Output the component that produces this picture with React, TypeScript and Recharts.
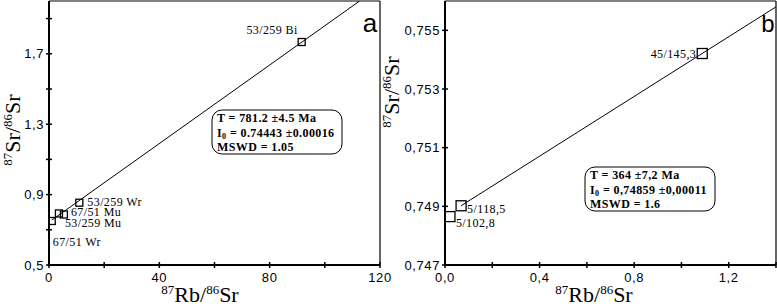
import React from 'react'
import { ScatterChart, Scatter, XAxis, YAxis, ReferenceLine } from 'recharts'

// panel a
const samplesA = ['53/259 Bi', '53/259 Wr', '67/51 Mu', '53/259 Mu', '67/51 Wr']
const rbSrA = [91.6, 11.0, 3.6, 5.4, 1.0]
const srSrA = [1.767, 0.854, 0.793, 0.787, 0.75]
const fitRbA = [1.0, 112.6]
const fitSrA = [0.755, 2.0]
const xTicksA = [0, 20, 40, 60, 80, 100, 120]
const xLabelsA = [0, 40, 80, 120]
const yTicksA = [0.5, 0.7, 0.9, 1.1, 1.3, 1.5, 1.7, 1.9]
const yLabelsA = [0.5, 0.9, 1.3, 1.7]

// panel b
const samplesB = ['45/145,3', '5/118,5', '5/102,8']
const rbSrB = [1.088, 0.068, 0.021]
const srSrB = [0.75421, 0.74902, 0.74865]
const fitRbB = [0.068, 1.4]
const fitSrB = [0.74902, 0.7558]
const xTicksB = [0, 0.2, 0.4, 0.6, 0.8, 1.0, 1.2, 1.4]
const xLabelsB = [0, 0.4, 0.8, 1.2]
const yTicksB = [0.747, 0.749, 0.751, 0.753, 0.755]

// isochron results
const resultA = ['T = 781.2 \u00b14.5  Ma', '0.74443 \u00b10.00016', 'MSWD = 1.05']
const resultB = ['T = 364 \u00b17,2  Ma', '0,74859  \u00b10,00011', 'MSWD = 1.6']

// where each sample label sits relative to its square
const labelPos: Record<string, { dx: number; dy: number; anchor: 'start' | 'end' }> = {
  '53/259 Bi': { dx: -4, dy: -12, anchor: 'end' },
  '53/259 Wr': { dx: 8, dy: -1, anchor: 'start' },
  '67/51 Mu': { dx: 12, dy: -1, anchor: 'start' },
  '53/259 Mu': { dx: 1, dy: 9, anchor: 'start' },
  '67/51 Wr': { dx: 1, dy: 21, anchor: 'start' },
  '45/145,3': { dx: -6, dy: 0, anchor: 'end' },
  '5/118,5': { dx: 6, dy: 3, anchor: 'start' },
  '5/102,8': { dx: 6, dy: 6, anchor: 'start' },
}

const pointsA = samplesA.map((name, i) => ({ name, x: rbSrA[i], y: srSrA[i] }))
const pointsB = samplesB.map((name, i) => ({ name, x: rbSrB[i], y: srSrB[i] }))
const fitA = fitRbA.map((x, i) => ({ x, y: fitSrA[i] }))
const fitB = fitRbB.map((x, i) => ({ x, y: fitSrB[i] }))

const tickFont = { fontFamily: '"Liberation Sans", Arial, sans-serif', fontSize: 13, letterSpacing: 0.6, fill: '#000' }
const serif = '"Liberation Serif", "Times New Roman", serif'

const comma = (v: number, d: number) => v.toFixed(d).replace('.', ',')

const yTick = (labeled: number[] | null, digits: number) => (props: any) => {
  const { x, y, payload } = props
  const v = payload.value
  const show = labeled ? labeled.includes(v) : true
  return (
    <g>
      <line x1={x - 3} x2={x + 3} y1={y} y2={y} stroke="#000" strokeWidth={1.5} />
      {show && (
        <text x={x - 5} y={y} textAnchor="end" dominantBaseline="central" style={tickFont}>
          {comma(v, digits)}
        </text>
      )}
    </g>
  )
}

const xTick = (labeled: number[], digits: number) => (props: any) => {
  const { x, y, payload } = props
  const v = payload.value
  return (
    <g>
      <line x1={x} x2={x} y1={y - 3} y2={y + 3} stroke="#000" strokeWidth={1.5} />
      {labeled.includes(v) && (
        <text x={x} y={y + 12} textAnchor="middle" dominantBaseline="central" style={tickFont}>
          {comma(v, digits)}
        </text>
      )}
    </g>
  )
}

const square = (size: number) => (props: any) => {
  const { cx, cy, payload } = props
  const pos = labelPos[payload.name]
  return (
    <g>
      <rect x={cx - size / 2} y={cy - size / 2} width={size} height={size} fill="none" stroke="#000" strokeWidth={1.3} />
      <text
        x={cx + pos.dx}
        y={cy + pos.dy}
        textAnchor={pos.anchor}
        dominantBaseline="central"
        style={{ fontFamily: serif, fontSize: 12, letterSpacing: 0.4, fill: '#000' }}
      >
        {payload.name}
      </text>
    </g>
  )
}

const noDot = () => <g />

function RatioTitle({ x, y, num, rotate }: { x: number; y: number; num: string; rotate?: boolean }) {
  return (
    <text
      transform={rotate ? `translate(${x},${y}) rotate(-90)` : `translate(${x},${y})`}
      textAnchor="middle"
      style={{ fontFamily: serif, fontSize: 22, fill: '#000' }}
    >
      <tspan fontSize={13} dy={-8}>87</tspan>
      <tspan dy={8}>{num}/</tspan>
      <tspan fontSize={13} dy={-8}>86</tspan>
      <tspan dy={8}>Sr</tspan>
    </text>
  )
}

function ResultBox({ x, y, lines }: { x: number; y: number; lines: string[] }) {
  const st = { fontFamily: serif, fontSize: 12, fontWeight: 700, letterSpacing: 0.4, fill: '#000' }
  return (
    <g>
      <rect x={x} y={y} width={130} height={44} rx={10} fill="#fff" stroke="#000" strokeWidth={1} />
      <text x={x + 5} y={y + 12} style={st}>{lines[0]}</text>
      <text x={x + 5} y={y + 27} style={st}>
        I<tspan fontSize={8} dy={2}>0</tspan>
        <tspan dy={-2}> = {lines[1]}</tspan>
      </text>
      <text x={x + 5} y={y + 41} style={st}>{lines[2]}</text>
    </g>
  )
}

export default function App() {
  const axisLine = { stroke: '#000', strokeWidth: 2 }
  return (
    <div style={{ position: 'absolute', left: 0, top: 0, width: 777, height: 306, background: '#fff', overflow: 'hidden' }}>
      <div style={{ position: 'absolute', left: 0, top: 0 }}>
        <ScatterChart width={394} height={306} margin={{ top: 1, right: 14, bottom: 0, left: 0 }}>
          <XAxis
            type="number"
            dataKey="x"
            domain={[0, 120]}
            ticks={xTicksA}
            interval={0}
            allowDataOverflow
            height={41}
            axisLine={axisLine}
            tickLine={false}
            tickSize={0}
            tickMargin={0}
            tick={xTick(xLabelsA, 0)}
          />
          <YAxis
            type="number"
            dataKey="y"
            domain={[0.5, 2.0]}
            ticks={yTicksA}
            interval={0}
            allowDataOverflow
            width={49}
            axisLine={axisLine}
            tickLine={false}
            tickSize={0}
            tickMargin={0}
            tick={yTick(yLabelsA, 1)}
          />
          <ReferenceLine y={2.0} stroke="#000" strokeWidth={1.2} />
          <ReferenceLine x={120} stroke="#000" strokeWidth={1.2} />
          <Scatter data={fitA} line={{ stroke: '#000', strokeWidth: 1 }} shape={noDot} isAnimationActive={false} />
          <Scatter data={pointsA} shape={square(7)} isAnimationActive={false} />
        </ScatterChart>
      </div>
      <div style={{ position: 'absolute', left: 390, top: 0 }}>
        <ScatterChart width={387} height={306} margin={{ top: 1, right: 1, bottom: 0, left: 0 }}>
          <XAxis
            type="number"
            dataKey="x"
            domain={[0, 1.4]}
            ticks={xTicksB}
            interval={0}
            allowDataOverflow
            height={41}
            axisLine={axisLine}
            tickLine={false}
            tickSize={0}
            tickMargin={0}
            tick={xTick(xLabelsB, 1)}
          />
          <YAxis
            type="number"
            dataKey="y"
            domain={[0.747, 0.756]}
            ticks={yTicksB}
            interval={0}
            allowDataOverflow
            width={55}
            axisLine={axisLine}
            tickLine={false}
            tickSize={0}
            tickMargin={0}
            tick={yTick(null, 3)}
          />
          <ReferenceLine y={0.756} stroke="#000" strokeWidth={1.2} />
          <ReferenceLine x={1.4} stroke="#000" strokeWidth={1.2} />
          <Scatter data={fitB} line={{ stroke: '#000', strokeWidth: 1 }} shape={noDot} isAnimationActive={false} />
          <Scatter data={pointsB} shape={square(10)} isAnimationActive={false} />
        </ScatterChart>
      </div>
      <svg width={777} height={306} style={{ position: 'absolute', left: 0, top: 0, pointerEvents: 'none' }}>
        <RatioTitle x={200} y={302} num="Rb" />
        <RatioTitle x={594} y={302} num="Rb" />
        <RatioTitle x={20} y={130} num="Sr" rotate />
        <RatioTitle x={399} y={92} num="Sr" rotate />
        <text x={370} y={32} textAnchor="middle" style={{ fontFamily: '"Liberation Sans", Arial, sans-serif', fontSize: 26, fill: '#000' }}>a</text>
        <text x={768} y={32} textAnchor="middle" style={{ fontFamily: '"Liberation Sans", Arial, sans-serif', fontSize: 24, fill: '#000' }}>b</text>
        <ResultBox x={212} y={110} lines={resultA} />
        <ResultBox x={585} y={167} lines={resultB} />
      </svg>
    </div>
  )
}
